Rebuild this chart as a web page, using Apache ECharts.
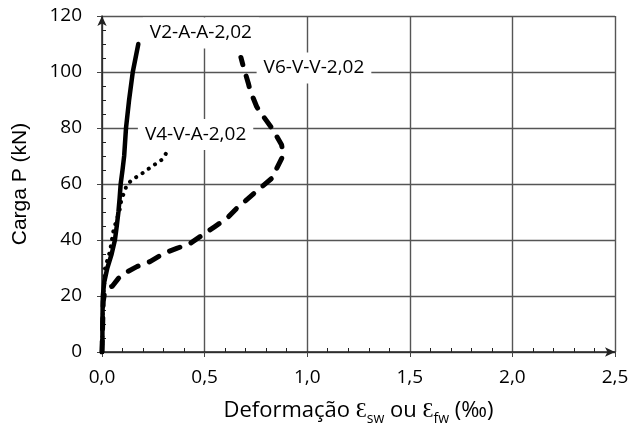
<!DOCTYPE html>
<html>
<head>
<meta charset="utf-8">
<script src="https://cdn.jsdelivr.net/npm/echarts@6/dist/echarts.min.js"></script>
<style>
  html, body { margin: 0; padding: 0; background: #fff; }
  #chart { width: 640px; height: 433px; }
</style>
</head>
<body>
<div id="chart"></div>
<script>
  // curvas carga x deformação (x em ‰, y em kN)
  var seriesNames = ['V2-A-A-2,02', 'V4-V-A-2,02', 'V6-V-V-2,02'];

  var v2Strain = [0, 0.002, 0.002, 0.003, 0.004, 0.011, 0.026, 0.047, 0.063, 0.072, 0.080, 0.086, 0.091, 0.100, 0.108, 0.117, 0.132, 0.150, 0.177];
  var v2Load   = [0, 5, 10, 15, 20, 25, 30, 35, 40, 45, 50, 55, 60, 65, 70, 80, 90, 100, 110];

  var v4Strain = [0, 0.002, 0.003, 0.004, 0.006, 0.012, 0.015, 0.039, 0.055, 0.070, 0.084, 0.096, 0.109, 0.120, 0.145, 0.200, 0.242, 0.290, 0.318, 0.330];
  var v4Load   = [0, 5, 10, 15, 20, 25, 30, 36, 43, 47, 50, 55, 57, 59.6, 61.4, 64, 66.2, 68.6, 71.5, 72.5];

  var v6Strain = [0, 0.002, 0.004, 0.006, 0.012, 0.030, 0.050, 0.080, 0.104, 0.170, 0.234, 0.300, 0.364, 0.430, 0.490, 0.550, 0.610, 0.656, 0.713, 0.770, 0.827, 0.860, 0.884, 0.875, 0.843, 0.827, 0.770, 0.754, 0.721, 0.713, 0.689, 0.677];
  var v6Load   = [0, 6, 12, 18, 21, 22.8, 23.5, 26.3, 27.9, 30.5, 32.3, 35.2, 37, 38.8, 41.8, 44.8, 47.8, 51.3, 54.9, 58.5, 62, 66.8, 70.4, 74, 78.1, 80, 85.8, 87.6, 93.6, 96, 101.9, 105.2];

  // posição dos rótulos das curvas
  var labelX = [0.482, 0.456, 1.033];
  var labelY = [113.9, 77.7, 101.4];

  var xTickLabels = ['0,0', '0,5', '1,0', '1,5', '2,0', '2,5'];
  var yTickLabels = ['0', '20', '40', '60', '80', '100', '120'];

  var FONT = 'Open Sans';

  function pairs (xs, ys) {
    var out = [];
    for (var i = 0; i < xs.length; i++) {
      out.push([xs[i], ys[i]]);
    }
    return out;
  }

  function curve (idx, xs, ys, lineType, width) {
    return {
      name: seriesNames[idx],
      type: 'line',
      data: pairs(xs, ys),
      showSymbol: false,
      symbol: 'none',
      smooth: false,
      animation: false,
      lineStyle: { color: '#000', width: width, type: lineType, cap: 'round', join: 'round' },
      markPoint: {
        symbol: 'rect',
        symbolSize: 1,
        itemStyle: { color: 'rgba(0,0,0,0)' },
        label: {
          show: true,
          position: 'inside',
          formatter: seriesNames[idx],
          fontFamily: FONT,
          fontSize: 19,
          color: '#000',
          backgroundColor: '#fff',
          padding: [6, 7]
        },
        data: [{ coord: [labelX[idx], labelY[idx]] }]
      }
    };
  }

  var chart = echarts.init(document.getElementById('chart'));

  chart.setOption({
    animation: false,
    grid: {
      left: 102,
      top: 16,
      width: 513,
      height: 336
    },
    xAxis: [
      {
        type: 'value',
        min: 0,
        max: 2.5,
        interval: 0.5,
        name: '{a|Deformação Ɛ}{s|sw}{a| ou Ɛ}{s|fw}{a| (‰)}',
        nameLocation: 'middle',
        nameGap: 44,
        nameTextStyle: {
          rich: {
            a: { fontFamily: FONT, fontSize: 22, color: '#000', lineHeight: 30, verticalAlign: 'middle' },
            s: { fontFamily: FONT, fontSize: 14, color: '#000', lineHeight: 14, verticalAlign: 'bottom' }
          }
        },
        axisLine: {
          lineStyle: { color: '#222', width: 1.5 },
          symbol: ['none', 'arrow'],
          symbolSize: [7, 10]
        },
        axisTick: { show: true, length: 5, lineStyle: { color: '#444' } },
        axisLabel: {
          margin: 16,
          fontFamily: FONT,
          fontSize: 19,
          color: '#000',
          formatter: function (v) { return xTickLabels[Math.round(v / 0.5)]; }
        },
        splitLine: { show: true, lineStyle: { color: '#555', width: 1.4 } }
      },
      {
        // só os traços menores, para dentro
        type: 'value',
        position: 'bottom',
        min: 0,
        max: 2.5,
        interval: 0.5,
        axisLine: { show: false },
        axisTick: { show: false, inside: true },
        axisLabel: { show: false },
        splitLine: { show: false },
        minorTick: { show: true, splitNumber: 5, length: 4, lineStyle: { color: '#222' } }
      }
    ],
    yAxis: [
      {
        type: 'value',
        min: 0,
        max: 120,
        interval: 20,
        name: 'Carga P (kN)',
        nameLocation: 'middle',
        nameGap: 71,
        nameTextStyle: { fontFamily: 'Liberation Sans', fontSize: 21, color: '#000' },
        axisLine: {
          lineStyle: { color: '#222', width: 1.5 },
          symbol: ['none', 'arrow'],
          symbolSize: [7, 10]
        },
        axisTick: { show: true, length: 5, lineStyle: { color: '#444' } },
        axisLabel: {
          margin: 20,
          fontFamily: FONT,
          fontSize: 19,
          color: '#000',
          formatter: function (v) { return yTickLabels[Math.round(v / 20)]; }
        },
        splitLine: { show: true, lineStyle: { color: '#555', width: 1.4 } }
      },
      {
        type: 'value',
        position: 'left',
        min: 0,
        max: 120,
        interval: 20,
        axisLine: { show: false },
        axisTick: { show: false, inside: true },
        axisLabel: { show: false },
        splitLine: { show: false },
        minorTick: { show: true, splitNumber: 4, length: 4, lineStyle: { color: '#222' } }
      }
    ],
    series: [
      curve(0, v2Strain, v2Load, 'solid', 4.5),
      curve(1, v4Strain, v4Load, [0.1, 7.5], 4),
      curve(2, v6Strain, v6Load, [11, 12], 5)
    ]
  });
</script>
</body>
</html>
